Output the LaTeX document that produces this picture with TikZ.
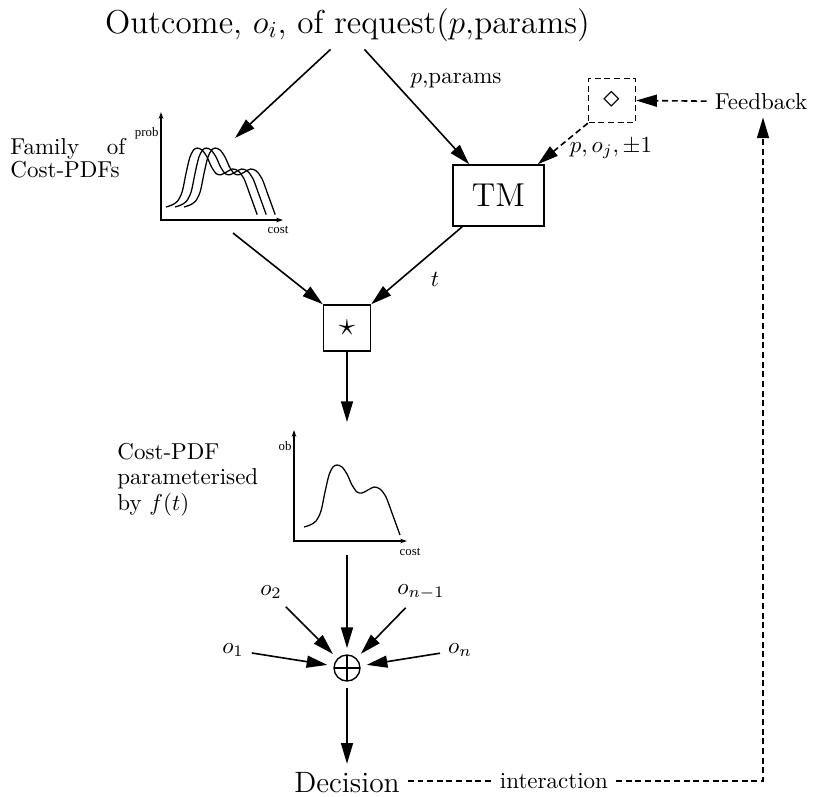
\documentclass[tikz,border=0pt]{standalone}
\usepackage{fontspec}
\newfontfamily\plotfont{Liberation Serif}
\usetikzlibrary{arrows.meta,calc}
\begin{document}
\begin{tikzpicture}[x=0.4348pt,y=-0.4348pt,
  arr/.style={line width=0.7pt,-{Triangle[length=9pt,width=5.2pt]}},
  dsh/.style={dash pattern=on 2.6pt off 1.6pt},
  axis/.style={line width=0.45pt,{Stealth[length=3pt,width=2pt]}-{Stealth[length=3pt,width=2pt]}},
  curve/.style={line width=0.55pt},
  tinylbl/.style={font=\plotfont\fontsize{5.6}{6}\selectfont,inner sep=0pt},
  boxnode/.style={draw,line width=0.7pt},
]
\useasboundingbox (0,0) rectangle (813,796);

% PDF curve shape, relative to its starting point
\def\pdfshape{(0,0) (6,-2) (12,-6) (17,-16) (21,-35) (25,-52) (29,-60) (33,-62)
  (38,-60) (43,-53) (48,-42) (53,-35) (58,-34) (64,-37) (70,-40) (76,-38)
  (82,-30) (88,-14) (96,8)}

% ---- top: request outcome
\node[font=\Large,anchor=base] (title) at (347.5,33) {Outcome, $o_i$, of request($p$,params)};

% ---- trust model and feedback
\node[boxnode,minimum width=39.6pt,minimum height=26.5pt,font=\Large] (tm) at (498.5,195.5) {TM};
\node[draw,dsh,line width=0.6pt,minimum width=20.4pt,minimum height=19.1pt,inner sep=0pt,font=\Large] (fbk) at (612,100.5) {$\diamond$};
\node[anchor=base] (fb) at (761,109) {Feedback};
\node[anchor=base] (lp) at (456,83) {$p$,params};
\node[anchor=base] (lf) at (611,152) {$p, o_j, \pm 1$};

\draw[arr] ($(title.south)+(17,0)$) -- ($(tm.north west)+(17,0)$);
\draw[arr,dsh] (fb.west) -- (fbk.east);
\draw[arr,dsh] (fbk.south west) -- ($(tm.north east)+(-7,0)$);

% ---- family of cost PDFs
\node[anchor=north west,inner sep=0pt,text width=50pt,align=justify,
      font=\fontsize{10}{10}\selectfont] (fam) at (10,138) {Family of Cost-PDFs};
\coordinate (g1in) at (235,138);
\coordinate (g1out) at (233,233);
\draw[arr] ($(title.south)+(-17,0)$) -- (g1in);
\draw[axis] (161,112) -- (161,220) -- (283,220);
\node[tinylbl,anchor=east] (g1y) at (159,133) {prob};
\node[tinylbl] (g1x) at (278,230) {cost};
\foreach \s in {0,9,18}
  \draw[curve,shift={(166+\s,207)},scale=0.95] plot[smooth] coordinates {\pdfshape};

% ---- combination
\node[boxnode,minimum width=20.4pt,minimum height=20pt,inner sep=0pt,font=\Large] (star) at (347,328) {$\star$};
\draw[arr] (g1out) -- (star.north west);
\draw[arr] ($(tm.south west)+(10,0)$) -- (star.north east);
\node (tl) at (435,279) {$t$};

% ---- resulting cost PDF
\coordinate (g2in) at (347,422);
\coordinate (g2out) at (347,555);
\draw[arr] (star) -- (g2in);
\node[anchor=north west,inner sep=0pt,text width=62pt,align=left,
      font=\fontsize{10}{11}\selectfont] (cpt) at (117,443) {Cost-PDF parameterised by $f(t)$};
\draw[axis] (294,430) -- (294,541) -- (407,541);
\node[tinylbl,anchor=east] (g2y) at (292,446) {ob};
\node[tinylbl] (g2x) at (410,552) {cost};
\draw[curve,shift={(304,527)}] plot[smooth] coordinates {\pdfshape};

% ---- aggregation of outcomes
\node[circle,draw,line width=0.6pt,minimum size=11.3pt,inner sep=0pt,outer sep=3pt] (sum) at (347,668) {};
\draw[line width=0.6pt] ($(sum.center)+(0,-13)$) -- ($(sum.center)+(0,13)$)
  ($(sum.center)+(-13,0)$) -- ($(sum.center)+(13,0)$);
\node (oa) at (233,650) {$o_1$};
\node (ob) at (271,592) {$o_2$};
\node (oc) at (421,592) {$o_{n-1}$};
\node (od) at (460,650) {$o_n$};
\draw[arr] (g2out) -- (sum);
\foreach \o in {oa,ob,oc,od} \draw[arr] (\o) -- (sum);

% ---- decision and interaction loop
\node[font=\fontsize{12.8}{15}\selectfont,anchor=base] (dec) at (347,792) {Decision};
\node[anchor=base] (int) at (554,788) {interaction};
\coordinate (corner) at (763,781);
\draw[arr] (sum) -- (dec);
\draw[dsh,line width=0.6pt] (dec.east |- corner) -- (int.west |- corner);
\draw[arr,dsh,line width=0.6pt] (int.east |- corner) -- (corner) -- (corner |- fb.south);
\end{tikzpicture}
\end{document}
